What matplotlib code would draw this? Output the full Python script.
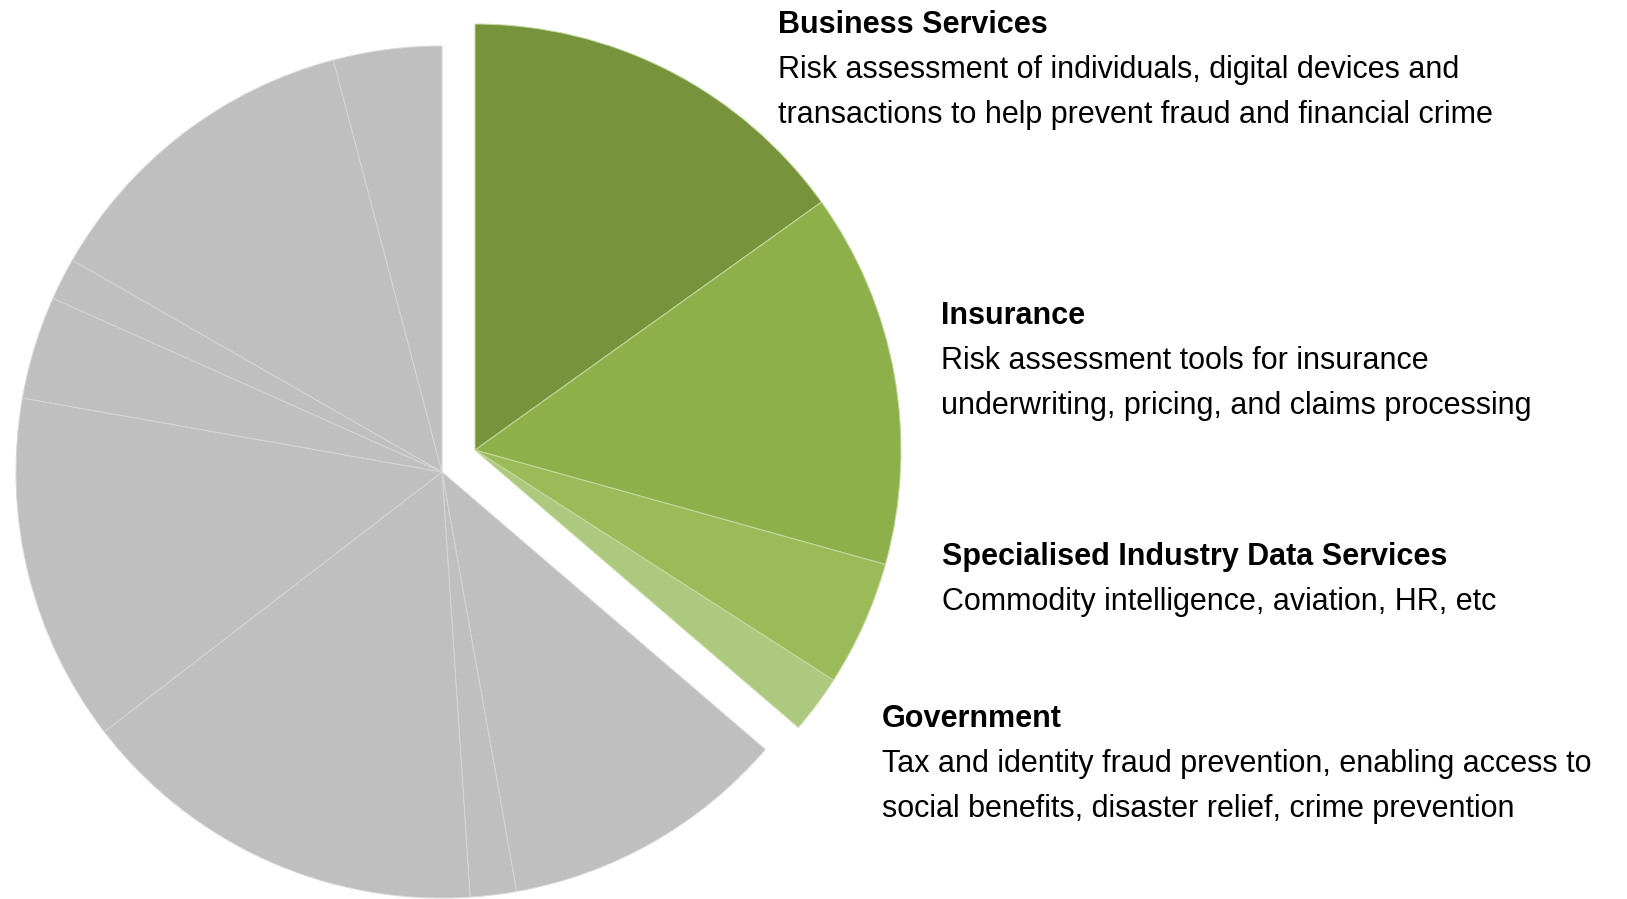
import matplotlib.pyplot as plt

# segment shares (percent), clockwise from 12 o'clock
segment_values = [15.1, 14.2, 4.75, 2.2, 10.9, 1.75, 15.6, 13.2, 3.9, 1.6, 12.6, 4.1]
highlighted = [True, True, True, True] + [False] * 8
segment_colors = ['#77933c', '#8db04a', '#9bbb59', '#adc97f'] + ['#bfbfbf'] * 8

titles = ['Business Services', 'Insurance', 'Specialised Industry Data Services', 'Government']
descriptions = [
    ['Risk assessment of individuals, digital devices and',
     'transactions to help prevent fraud and financial crime'],
    ['Risk assessment tools for insurance',
     'underwriting, pricing, and claims processing'],
    ['Commodity intelligence, aviation, HR, etc'],
    ['Tax and identity fraud prevention, enabling access to',
     'social benefits, disaster relief, crime prevention'],
]
label_x = [778, 941, 942, 882]
label_top_baseline = [33, 324, 565, 727]
line_gap = 45

W, H = 1627, 899
fig = plt.figure(figsize=(W / 100, H / 100), dpi=100)
ax = fig.add_axes([0, 0, 1, 1])

radius = 426
grey_center = (442, H - 472)
green_center = (475, H - 450)

# same pie drawn twice: grey part at the centre, green part pulled out
for center, show in [(grey_center, False), (green_center, True)]:
    wedges, _ = ax.pie(segment_values, colors=segment_colors, startangle=90,
                       counterclock=False, radius=radius, center=center,
                       wedgeprops=dict(linewidth=0.7), frame=True)
    for w, hl in zip(wedges, highlighted):
        if hl != show:
            w.set_visible(False)
        else:
            w.set_edgecolor('#d6d6d6' if not hl else '#c6d9a0')

ax.set_xlim(0, W)
ax.set_ylim(0, H)
ax.set_aspect('equal')
ax.axis('off')

fam = ['Liberation Sans Narrow', 'Liberation Sans', 'DejaVu Sans']
for i, title in enumerate(titles):
    y = H - label_top_baseline[i]
    ax.text(label_x[i], y, title, fontsize=22, fontweight='bold', family=fam,
            va='baseline', ha='left', color='black')
    for j, line in enumerate(descriptions[i]):
        ax.text(label_x[i], y - line_gap * (j + 1), line, fontsize=22, family=fam,
                va='baseline', ha='left', color='black')

fig.savefig('out.png', dpi=100)
